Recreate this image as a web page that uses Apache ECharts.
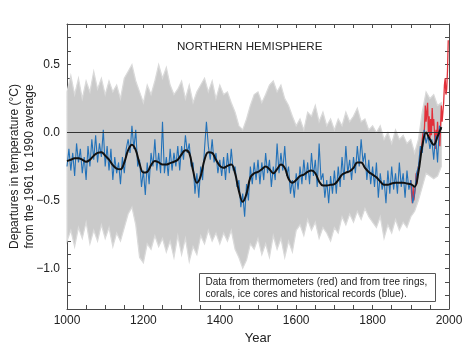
<!DOCTYPE html>
<html>
<head>
<meta charset="utf-8">
<script src="https://cdn.jsdelivr.net/npm/echarts@6/dist/echarts.min.js"></script>
<style>
    html, body { margin: 0; padding: 0; background: #fff; }
    #chart { width: 474px; height: 352px; }
</style>
</head>
<body>
<div id="chart"></div>
<script>
// proxy reconstruction, every 5 years from 1000
const proxyStart = 1000;
const proxyStep = 5;
const proxyValues = [
    -0.25, -0.12, -0.28, -0.15, -0.32, -0.08, -0.22, -0.12, -0.30, -0.18,
    -0.35, -0.10, -0.25, -0.05, -0.20, -0.02, -0.22, -0.08, -0.18, 0.02,
    -0.25, -0.10, -0.28, -0.12, -0.35, -0.18, -0.30, -0.22, -0.38, -0.18,
    -0.30, -0.12, -0.05, -0.15, 0.05, -0.12, 0.02, -0.25, -0.20, -0.40,
    -0.28, -0.46, -0.22, -0.38, -0.15, -0.25, -0.05, -0.28, -0.15, -0.30,
    0.08, -0.30, -0.18, -0.32, -0.12, -0.28, -0.15, -0.25, -0.10, -0.28,
    -0.10, -0.20, -0.02, -0.15, -0.08, -0.25, -0.22, -0.45, -0.30, -0.48,
    -0.25, -0.35, -0.12, 0.08, -0.10, -0.20, -0.05, -0.22, -0.15, -0.30,
    -0.20, -0.32, -0.18, -0.35, -0.15, -0.30, -0.12, -0.28, -0.25, -0.40,
    -0.35, -0.55, -0.45, -0.62, -0.38, -0.50, -0.25, -0.38, -0.22, -0.35,
    -0.20, -0.38, -0.22, -0.35, -0.15, -0.30, -0.20, -0.40, -0.25, -0.35,
    -0.08, -0.30, -0.15, -0.28, -0.10, -0.32, -0.25, -0.45, -0.35, -0.48,
    -0.30, -0.42, -0.25, -0.38, -0.20, -0.35, -0.22, -0.38, -0.15, -0.32,
    -0.20, -0.40, -0.08, -0.35, -0.30, -0.48, -0.35, -0.52, -0.32, -0.45,
    -0.28, -0.45, -0.25, -0.40, -0.18, -0.35, -0.10, -0.30, -0.20, -0.35,
    -0.18, -0.30, -0.10, -0.25, -0.05, -0.22, -0.15, -0.35, -0.20, -0.38,
    -0.25, -0.40, -0.22, -0.48, -0.30, -0.42, -0.35, -0.52, -0.28, -0.45,
    -0.25, -0.42, -0.30, -0.45, -0.22, -0.40, -0.30, -0.48, -0.28, -0.42,
    -0.35, -0.52, -0.45, -0.30, -0.25, -0.10, -0.15, 0.02, -0.08, -0.02,
    -0.12, -0.05, -0.20, -0.02, -0.22, 0.05, 0.02
];

// smoothed curve and uncertainty band, every 10 years from 1000
const smoothStart = 1000;
const smoothStep = 10;
const smoothValues = [
    -0.21, -0.20, -0.19, -0.19, -0.20, -0.215, -0.20, -0.17, -0.15, -0.145,
    -0.17, -0.20, -0.24, -0.265, -0.27, -0.22, -0.13, -0.09, -0.13, -0.23,
    -0.295, -0.29, -0.24, -0.21, -0.22, -0.235, -0.235, -0.225, -0.215, -0.20,
    -0.16, -0.13, -0.15, -0.28, -0.37, -0.32, -0.20, -0.145, -0.15, -0.20,
    -0.245, -0.26, -0.245, -0.235, -0.30, -0.43, -0.51, -0.45, -0.33, -0.30,
    -0.29, -0.27, -0.25, -0.27, -0.30, -0.27, -0.235, -0.26, -0.34, -0.37,
    -0.35, -0.32, -0.31, -0.29, -0.28, -0.30, -0.36, -0.39, -0.39, -0.385,
    -0.38, -0.35, -0.31, -0.295, -0.285, -0.26, -0.22, -0.22, -0.26, -0.29,
    -0.31, -0.33, -0.36, -0.385, -0.385, -0.375, -0.37, -0.37, -0.37, -0.375,
    -0.38, -0.40, -0.29, -0.10, 0.0, -0.05, -0.09, -0.03, 0.04
];
const bandUpper = [
    0.30, 0.42, 0.28, 0.40, 0.25, 0.38, 0.30, 0.45, 0.32, 0.40,
    0.28, 0.38, 0.30, 0.35, 0.25, 0.40, 0.45, 0.50, 0.38, 0.30,
    0.22, 0.35, 0.28, 0.38, 0.50, 0.40, 0.48, 0.35, 0.28, 0.32,
    0.38, 0.25, 0.35, 0.22, 0.30, 0.35, 0.40, 0.30, 0.38, 0.25,
    0.35, 0.28, 0.30, 0.22, 0.15, 0.05, 0.02, 0.10, 0.20, 0.28,
    0.30, 0.22, 0.28, 0.35, 0.38, 0.30, 0.35, 0.25, 0.20, 0.12,
    0.05, 0.10, 0.02, 0.15, 0.12, 0.20, 0.08, 0.15, 0.05, 0.10,
    0.02, 0.10, 0.05, 0.15, 0.08, 0.12, 0.18, 0.08, 0.10, 0.02,
    0.05, 0.00, 0.05, -0.05, 0.00, -0.08, 0.02, -0.05, -0.02, -0.08,
    -0.05, -0.15, -0.05, 0.15, 0.30, 0.25, 0.28, 0.20, 0.22
];
const bandLower = [
    -0.80, -0.72, -0.84, -0.70, -0.78, -0.66, -0.82, -0.72, -0.80, -0.68,
    -0.78, -0.70, -0.84, -0.74, -0.80, -0.70, -0.60, -0.55, -0.68, -0.92,
    -0.96, -0.82, -0.86, -0.76, -0.84, -0.78, -0.88, -0.80, -0.92, -0.76,
    -0.90, -0.78, -0.95, -0.84, -0.90, -0.76, -0.82, -0.72, -0.80, -0.74,
    -0.82, -0.74, -0.80, -0.72, -0.86, -0.92, -1.00, -0.94, -0.82, -0.86,
    -0.78, -0.90, -0.82, -0.92, -0.76, -0.86, -0.78, -0.92, -0.80, -0.88,
    -0.72, -0.68, -0.76, -0.64, -0.72, -0.66, -0.78, -0.70, -0.74, -0.80,
    -0.70, -0.74, -0.62, -0.68, -0.60, -0.66, -0.58, -0.64, -0.56, -0.62,
    -0.66, -0.70, -0.62, -0.78, -0.68, -0.74, -0.64, -0.72, -0.66, -0.70,
    -0.62, -0.58, -0.50, -0.40, -0.30, -0.32, -0.34, -0.32, -0.25
];

// thermometer record, every 2 years from 1900
const thermoStart = 1900;
const thermoStep = 2;
const thermoValues = [
    -0.35, -0.45, -0.52, -0.40, -0.50, -0.45, -0.40, -0.30, -0.38, -0.28,
    -0.25, -0.22, -0.20, -0.10, -0.15, -0.05, 0.00, -0.05, 0.05, 0.20,
    0.08, 0.15, 0.22, 0.00, 0.12, -0.05, 0.10, -0.02, 0.18, 0.05,
    0.10, 0.00, -0.12, 0.02, -0.05, 0.08, -0.02, 0.02, -0.10, 0.05,
    0.20, 0.08, 0.15, 0.22, 0.35, 0.40, 0.28, 0.32, 0.45, 0.68
];

const yLabels = ['\u22121.0', '\u22120.5', '0.0', '0.5'];
const xLabels = ['1000', '1200', '1400', '1600', '1800', '2000'];

function toPairs(start, step, values) {
    return values.map((v, i) => [start + i * step, v]);
}

const chart = echarts.init(document.getElementById('chart'));

const font = "'Liberation Sans', Arial, sans-serif";
const axisColor = '#4a4a4a';

function yLabel(v) {
    const r = Math.round(v * 10) / 10;
    const txt = (r < 0 ? '\u2212' + Math.abs(r).toFixed(1) : r.toFixed(1));
    return yLabels.indexOf(txt) >= 0 ? txt : '';
}

function xLabel(v) {
    return xLabels.indexOf(String(v)) >= 0 ? String(v) : '';
}

// grey uncertainty range drawn as one polygon through the axis scales
function renderBand(params, api) {
    const pts = [];
    bandUpper.forEach((u, i) => {
        pts.push(api.coord([smoothStart + i * smoothStep, u]));
    });
    for (let i = bandLower.length - 1; i >= 0; i--) {
        pts.push(api.coord([smoothStart + i * smoothStep, bandLower[i]]));
    }
    return {
        type: 'polygon',
        shape: { points: pts },
        style: { fill: '#cacaca', stroke: '#dadada', lineWidth: 1.2 }
    };
}

const tickStyle = { inside: true, length: 4, lineStyle: { color: axisColor } };
const lineStyle = { show: true, onZero: false, lineStyle: { color: axisColor, width: 1 } };

const option = {
    animation: false,
    title: {
        text: 'NORTHERN HEMISPHERE',
        left: 177,
        top: 41,
        padding: 0,
        textStyle: { fontFamily: font, fontSize: 11.6, fontWeight: 'normal', color: '#222' }
    },
    grid: { left: 67, right: 25, top: 24, bottom: 43, outerBoundsMode: 'none', containLabel: false },
    xAxis: [
        {
            type: 'value', min: 1000, max: 2000, interval: 50,
            name: 'Year', nameLocation: 'middle', nameGap: 14,
            nameTextStyle: { fontFamily: font, fontSize: 13, color: '#222' },
            axisLine: lineStyle,
            axisTick: tickStyle,
            axisLabel: { formatter: xLabel, fontFamily: font, fontSize: 12, color: '#222', margin: 6, hideOverlap: false },
            splitLine: { show: false }
        },
        {
            type: 'value', min: 1000, max: 2000, interval: 50, position: 'top',
            axisLine: lineStyle,
            axisTick: tickStyle,
            axisLabel: { show: false },
            splitLine: { show: false }
        }
    ],
    yAxis: [
        {
            type: 'value', min: -1.3, max: 0.8, interval: 0.1,
            name: 'Departures in temperature (\u00b0C)\nfrom the 1961 to 1990 average',
            nameLocation: 'middle', nameRotate: 90, nameGap: 30, nameMoveOverlap: false,
            nameTextStyle: { fontFamily: font, fontSize: 12, color: '#222', lineHeight: 15 },
            axisLine: lineStyle,
            axisTick: tickStyle,
            axisLabel: { formatter: yLabel, fontFamily: font, fontSize: 12, color: '#222', margin: 7 },
            splitLine: { show: false }
        },
        {
            type: 'value', min: -1.3, max: 0.8, interval: 0.1, position: 'right',
            axisLine: lineStyle,
            axisTick: tickStyle,
            axisLabel: { show: false },
            splitLine: { show: false }
        }
    ],
    graphic: [
        {
            type: 'group',
            left: 199,
            top: 273,
            z: 100,
            children: [
                {
                    type: 'rect',
                    shape: { x: 0, y: 0, width: 236, height: 28 },
                    style: { fill: '#fff', stroke: '#555', lineWidth: 1 }
                },
                {
                    type: 'text',
                    x: 6, y: 3,
                    style: {
                        text: 'Data from thermometers (red) and from tree rings,\ncorals, ice cores and historical records (blue).',
                        font: "10px 'Liberation Sans', Arial, sans-serif",
                        lineHeight: 12,
                        fill: '#222'
                    }
                }
            ]
        }
    ],
    series: [
        {
            name: 'band',
            type: 'custom',
            data: [[smoothStart, 0]],
            renderItem: renderBand,
            silent: true,
            z: 1
        },
        {
            name: 'thermometers',
            type: 'line',
            data: toPairs(thermoStart, thermoStep, thermoValues),
            symbol: 'none',
            lineStyle: { color: '#e2303a', width: 1.3 },
            z: 3
        },
        {
            name: 'proxy',
            type: 'line',
            data: toPairs(proxyStart, proxyStep, proxyValues),
            symbol: 'none',
            lineStyle: { color: '#2372b9', width: 1.1 },
            markLine: {
                silent: true,
                symbol: 'none',
                label: { show: false },
                lineStyle: { color: '#333', width: 1, type: 'solid' },
                data: [{ yAxis: 0 }]
            },
            z: 4
        },
        {
            name: 'smoothed',
            type: 'line',
            data: toPairs(smoothStart, smoothStep, smoothValues),
            smooth: 0.4,
            symbol: 'none',
            lineStyle: { color: '#111', width: 2 },
            z: 5
        }
    ]
};

chart.setOption(option);
</script>
</body>
</html>
